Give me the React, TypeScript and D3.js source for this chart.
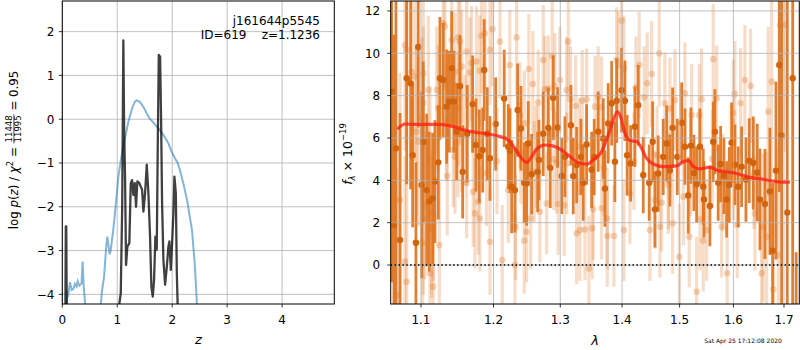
import React, { useEffect, useRef } from "react";
import * as d3 from "d3";

const FONT = "DejaVu Sans, sans-serif";

// ---------- left panel: p(z) ----------
const zTicks = [0, 1, 2, 3, 4];
const logpTicks = [-4, -3, -2, -1, 0, 1, 2];

// blue: log p(z)
const pzCurve: [number, number][] = [
  [0.07, -4.5], [0.09, -3.95], [0.11, -4.0], [0.14, -3.72], [0.17, -3.9], [0.2, -3.88],
  [0.23, -3.76], [0.26, -3.82], [0.28, -3.7], [0.31, -3.8], [0.35, -3.75], [0.37, -3.25],
  [0.39, -3.82], [0.42, -4.3], [0.55, -5.5], [0.69, -4.4], [0.72, -3.94], [0.76, -3.6],
  [0.8, -2.9], [0.82, -2.68], [0.86, -3.08], [0.88, -3.0], [0.93, -2.5], [0.97, -2.0],
  [1.02, -1.31], [1.06, -0.98], [1.11, -0.63], [1.2, -0.07], [1.27, 0.25], [1.32, 0.4],
  [1.355, 0.43], [1.41, 0.4], [1.49, 0.25], [1.55, 0.1], [1.6, 0.0], [1.66, -0.08],
  [1.72, -0.17], [1.78, -0.26], [1.84, -0.36], [1.93, -0.55], [1.99, -0.74], [2.05, -0.89],
  [2.1, -1.0], [2.14, -1.16], [2.2, -1.45], [2.27, -1.84], [2.36, -2.53], [2.41, -3.3],
  [2.44, -3.97], [2.48, -5.0],
];

// dark: chi2 based
const chi2Curve: [number, number][] = [
  [0.0, -6], [0.055, -4.6], [0.064, -2.45], [0.072, -2.45], [0.082, -4.6], [0.3, -7],
  [0.9, -7], [1.0, -4.6], [1.04, -4.2], [1.064, -3.97], [1.09, -2.0], [1.111, 1.8],
  [1.125, -0.2], [1.142, -1.31], [1.16, -3.33], [1.184, -2.91], [1.22, -2.83], [1.246, -1.46],
  [1.27, -1.39], [1.293, -1.73], [1.319, -1.46], [1.342, -2.0], [1.366, -1.42], [1.403, -1.46],
  [1.428, -1.54], [1.452, -1.61], [1.476, -2.11], [1.506, -1.69], [1.537, -1.04], [1.567, -1.69],
  [1.597, -2.68], [1.621, -3.82], [1.646, -4.05], [1.67, -3.67], [1.694, -2.68], [1.719, -2.98],
  [1.737, -0.63], [1.756, 1.47], [1.78, 1.43], [1.798, -0.02], [1.816, -1.92], [1.84, -3.21],
  [1.871, -3.78], [1.902, -3.37], [1.931, -2.91], [1.949, -2.79], [1.975, -3.44], [2.004, -2.68],
  [2.022, -2.15], [2.04, -1.31], [2.066, -1.69], [2.084, -3.52], [2.107, -4.6], [2.3, -7],
  [4.95, -7],
];

const objName = "j161644p5545";
const objInfo = "ID=619    z=1.1236";

// ---------- right panel: spectrum ----------
const lamTicks = [1.1, 1.2, 1.3, 1.4, 1.5, 1.6, 1.7];
const fluxTicks = [0, 2, 4, 6, 8, 10, 12];

const darkWave = [
  1.062, 1.065, 1.0675, 1.0727, 1.0813, 1.0865, 1.0891, 1.0934, 1.0964, 1.1009,
  1.103, 1.1076, 1.111, 1.1155, 1.1186, 1.1231, 1.1253, 1.1298, 1.1344, 1.138,
  1.1413, 1.1444, 1.1481, 1.1527, 1.1564, 1.1628, 1.1703, 1.175, 1.1797, 1.1845,
  1.1867, 1.191, 1.1949, 1.2031, 1.2155, 1.2214, 1.2239, 1.2264, 1.2312, 1.2352,
  1.2401, 1.245, 1.2486, 1.251, 1.2561, 1.2652, 1.2672, 1.2737, 1.2814, 1.2845,
  1.2891, 1.2959, 1.3022, 1.3073, 1.3168, 1.3204, 1.3258, 1.3326, 1.3363, 1.3417,
  1.3498, 1.354, 1.3605, 1.3687, 1.3715, 1.3769, 1.3826, 1.388, 1.3909, 1.3992,
  1.4048, 1.4086, 1.4144, 1.4217, 1.4274, 1.436, 1.4463, 1.4523, 1.4563, 1.462,
  1.4708, 1.4769, 1.4827, 1.4875, 1.4958, 1.5037, 1.5096, 1.5156, 1.5205, 1.526,
  1.5309, 1.537, 1.5431, 1.5444, 1.5555, 1.5617, 1.5649, 1.5711, 1.5756, 1.5819,
  1.587, 1.592, 1.5965, 1.6029, 1.6092, 1.6158, 1.6242, 1.6306, 1.6384, 1.6463,
  1.6517, 1.6616, 1.6716, 1.677, 1.6837, 1.6904, 1.6952, 1.7067, 1.7178, 1.725,
];
const darkFlux = [
  8.19, 1.89, 5.51, 1.18, 8.82, 8.58, 5.19, 1.05, 10.3, 3.78,
  5.81, 3.54, 3.0, 3.15, 3.94, 4.85, 8.82, 8.74, 7.48, 7.72,
  9.3, 7.72, 6.3, 8.45, 4.4, 6.2, 7.6, 5.67, 5.14, 5.43,
  9.21, 6.2, 5.04, 6.66, 7.87, 5.59, 5.4, 3.7, 3.54, 7.32,
  6.45, 3.89, 3.86, 5.74, 4.29, 4.4, 4.96, 6.2, 6.48, 4.59,
  7.9, 6.5, 4.21, 5.11, 6.6, 4.2, 4.72, 5.11, 3.89, 5.69,
  4.5, 5.1, 6.3, 5.98, 3.61, 6.69, 7.64, 4.88, 7.76, 8.26,
  7.76, 5.19, 4.8, 6.53, 7.55, 4.25, 3.89, 5.82, 2.63, 4.32,
  5.11, 5.74, 4.47, 6.48, 5.11, 6.72, 5.59, 3.29, 5.64, 4.35,
  3.81, 5.59, 3.7, 3.1, 2.79, 5.82, 6.3, 3.89, 4.77, 4.21,
  3.1, 3.78, 5.78, 4.74, 3.7, 4.64, 4.04, 4.93, 4.82, 4.37,
  3.1, 2.88, 3.48, 0.68, 4.46, 9.45, 6.12, 2.48, 8.82, -4.0,
];
const darkErr = [
  9, 9, 9, 6, 5, 5, 3.4, 3.8, 3.8, 4.4,
  3.8, 3.6, 3.3, 3.1, 2.9, 2.7, 2.9, 2.7, 2.7, 2.4,
  2.7, 2.4, 2.3, 2.4, 2.2, 2.3, 2.3, 2.2, 2.2, 2.0,
  2.4, 2.2, 2.0, 2.2, 2.3, 2.0, 2.0, 2.2, 2.0, 2.2,
  2.0, 1.9, 2.0, 2.0, 1.9, 1.9, 1.9, 2.0, 1.9, 1.9,
  2.0, 1.9, 1.8, 1.9, 1.9, 1.8, 1.8, 1.8, 1.8, 1.9,
  1.8, 1.8, 1.9, 1.9, 1.8, 1.9, 2.0, 1.9, 2.0, 2.0,
  1.9, 1.9, 1.8, 1.9, 1.9, 1.8, 1.8, 1.9, 1.8, 1.8,
  1.8, 1.8, 1.7, 1.9, 1.8, 1.9, 1.8, 1.8, 1.8, 1.8,
  1.8, 1.8, 1.8, 1.8, 1.9, 1.9, 2.0, 1.8, 1.8, 1.8,
  1.8, 1.8, 1.9, 1.9, 1.9, 1.9, 2.0, 2.0, 2.2, 2.3,
  2.4, 2.6, 3.0, 3.2, 4.2, 6, 9, 11, 11, 4.6,
];

// second (faint) spectrum: [lambda, flux, err]
const lightPts: [number, number, number][] = [
  [1.0685, -1.42, 6], [1.0727, 3.07, 6], [1.0791, 10.39, 5], [1.0791, 0.16, 5], [1.0813, -0.79, 5],
  [1.0813, 10.16, 4.5], [1.0877, 9.13, 4], [1.092, 8.9, 4], [1.0942, 6.3, 4], [1.0964, 5.83, 4],
  [1.1009, 6.93, 3.8], [1.1022, 1.05, 3.8], [1.103, 7.67, 3.6], [1.103, 9.05, 3.6], [1.103, 2.2, 3.6],
  [1.1052, 2.83, 3.5], [1.1097, 8.27, 3.5], [1.1119, 5.04, 3.4], [1.1119, -0.39, 3.4], [1.1142, 1.65, 3.2],
  [1.1163, 2.44, 3.2], [1.1163, -1.02, 3.0], [1.121, 8.27, 3.0], [1.1231, 7.4, 3.0], [1.1245, 0.94, 3.0],
  [1.1298, 11.42, 3.0], [1.1321, 11.26, 3.0], [1.1344, 6.77, 2.8], [1.1352, 4.2, 2.8], [1.1413, 10.63, 2.8],
  [1.1435, 5.43, 2.7], [1.1458, 9.13, 2.8], [1.1458, 5.12, 2.7], [1.15, 5.8, 2.6], [1.1504, 10.75, 2.8],
  [1.1504, 7.4, 2.7], [1.1527, 10.55, 2.8], [1.155, 9.37, 2.7], [1.155, 6.06, 2.6], [1.1596, 6.38, 2.6],
  [1.1619, 10.08, 2.7], [1.1619, 3.86, 2.6], [1.1665, 9.09, 2.6], [1.1688, 9.53, 2.7], [1.1711, 3.46, 2.6],
  [1.1735, 2.44, 2.6], [1.1758, 9.61, 2.6], [1.1781, 2.99, 2.5], [1.1805, 9.18, 2.6], [1.1805, 2.2, 2.5],
  [1.1828, 10.83, 2.7], [1.1875, 10.94, 2.7], [1.1899, 4.33, 2.5], [1.1949, 10.16, 2.6], [1.1949, 1.1, 2.5],
  [1.1985, 11.13, 2.7], [1.205, 4.9, 2.5], [1.2093, 10.55, 2.7], [1.2126, 0.23, 2.6], [1.2214, 3.54, 2.5],
  [1.2237, 9.45, 2.6], [1.2312, 0.0, 2.5], [1.2322, 1.81, 2.5], [1.2337, 10.75, 2.7], [1.2386, 7.08, 2.5],
  [1.24, 5.3, 2.4], [1.245, 6.69, 2.5], [1.245, 1.15, 2.5], [1.2486, 1.57, 2.4], [1.2519, 9.26, 2.6],
  [1.2547, 2.2, 2.4], [1.258, 8.55, 2.5], [1.26, 4.4, 2.4], [1.2628, 5.12, 2.4], [1.2661, 7.67, 2.5],
  [1.2686, 2.52, 2.4], [1.2737, 9.68, 2.6], [1.2763, 8.3, 2.5], [1.2789, 2.91, 2.4], [1.2814, 8.34, 2.5],
  [1.2875, 9.87, 2.6], [1.29, 5.0, 2.4], [1.2917, 8.46, 2.5], [1.2943, 4.83, 2.4], [1.2968, 2.88, 2.4],
  [1.2995, 8.74, 2.5], [1.3062, 2.83, 2.4], [1.31, 8.27, 2.5], [1.31, 4.8, 2.4], [1.3125, 10.55, 2.6],
  [1.316, 7.83, 2.5], [1.3242, 7.51, 2.4], [1.3258, 1.49, 2.4], [1.33, 5.6, 2.3], [1.3311, 1.65, 2.4],
  [1.3347, 7.76, 2.4], [1.339, 1.68, 2.4], [1.3417, 7.83, 2.4], [1.3454, -0.16, 2.5], [1.3508, 1.73, 2.4],
  [1.3524, 2.63, 2.4], [1.3552, 7.48, 2.4], [1.3605, 7.95, 2.4], [1.366, 7.45, 2.4], [1.366, 2.68, 2.4],
  [1.37, 4.6, 2.3], [1.3753, 2.2, 2.4], [1.3753, 1.37, 2.4], [1.3864, 1.37, 2.4], [1.3909, 9.68, 2.5],
  [1.3936, 9.45, 2.5], [1.3992, 11.54, 2.6], [1.4031, 9.29, 2.5], [1.4031, 1.65, 2.4], [1.4132, 3.38, 2.4],
  [1.42, 4.9, 2.3], [1.4233, 8.39, 2.4], [1.429, 9.45, 2.5], [1.4377, 7.92, 2.4], [1.4428, 8.58, 2.4],
  [1.4476, 1.65, 2.4], [1.4505, 9.02, 2.5], [1.4563, 3.07, 2.3], [1.46, 5.2, 2.3], [1.4638, 9.99, 2.5],
  [1.465, 1.81, 2.4], [1.468, 2.94, 2.3], [1.4738, 7.64, 2.4], [1.4798, 3.78, 2.3], [1.48, 4.0, 2.3],
  [1.4827, 7.4, 2.4], [1.4875, 1.97, 2.4], [1.4916, 7.79, 2.4], [1.4994, 0.39, 2.5], [1.5067, 3.23, 2.3],
  [1.5096, 8.11, 2.4], [1.5174, 1.34, 2.4], [1.52, 4.6, 2.3], [1.5218, 7.08, 2.4], [1.5309, -1.26, 2.6],
  [1.5357, 7.08, 2.4], [1.537, 2.16, 2.4], [1.5401, 7.83, 2.4], [1.5431, 1.15, 2.4], [1.5494, 1.65, 2.4],
  [1.56, 5.0, 2.3], [1.5617, 9.72, 2.6], [1.5681, 7.87, 2.5], [1.5775, 1.81, 2.4], [1.58, 3.9, 2.3],
  [1.5881, -0.39, 2.6], [1.5996, 7.19, 2.5], [1.6, 4.5, 2.4], [1.6029, 8.08, 2.5], [1.6073, 1.89, 2.5],
  [1.6139, 7.64, 2.6], [1.6222, 8.74, 2.6], [1.6333, 8.46, 2.7], [1.64, 4.3, 2.6], [1.6418, 2.44, 2.7],
  [1.6549, -0.39, 3.5], [1.6582, 1.78, 3.5], [1.665, 1.34, 4], [1.6682, 7.24, 4], [1.675, 8.66, 4.5],
  [1.6783, -1.15, 5], [1.6886, 0.47, 5], [1.692, 11.34, 5], [1.7023, 11.34, 6],
];

// best-fit template
const modelWave = [
  1.0705, 1.0791, 1.0942, 1.1253, 1.1391, 1.1665, 1.1899, 1.2093, 1.2214, 1.2312,
  1.2411, 1.2486, 1.2561, 1.2637, 1.2763, 1.2866, 1.2995, 1.3125, 1.3284, 1.3417,
  1.3524, 1.366, 1.3742, 1.3826, 1.3919, 1.3964, 1.4048, 1.4132, 1.4246, 1.4332,
  1.4418, 1.4533, 1.4708, 1.4946, 1.5067, 1.5159, 1.5251, 1.537, 1.5555, 1.5711,
  1.5933, 1.6092, 1.6318, 1.6578, 1.6855, 1.7095,
];
const modelFlux = [
  6.46, 6.66, 6.64, 6.64, 6.57, 6.31, 6.2, 6.07, 5.91, 5.51,
  5.04, 4.84, 5.12, 5.48, 5.67, 5.64, 5.48, 5.19, 4.84, 4.76,
  4.96, 5.35, 5.91, 6.61, 7.24, 7.09, 6.23, 5.88, 5.83, 5.51,
  5.04, 4.77, 4.65, 4.68, 4.88, 4.93, 4.65, 4.54, 4.62, 4.46,
  4.38, 4.3, 4.14, 4.05, 3.94, 3.91,
];

const stamp = "Sat Apr 25 17:12:08 2020";

const minus = (v: number) => (v < 0 ? "\u2212" + Math.abs(v) : String(v));

type Box = { x0: number; x1: number; y0: number; y1: number };

function drawGrid(g: any, box: Box, x: any, y: any, xt: number[], yt: number[]) {
  const grid = g.append("g").attr("stroke", "#b0b0b0").attr("stroke-width", 0.8);
  grid.selectAll("line.gx").data(xt).join("line")
    .attr("x1", (d: number) => x(d)).attr("x2", (d: number) => x(d))
    .attr("y1", box.y0).attr("y2", box.y1);
  grid.selectAll("line.gy").data(yt).join("line")
    .attr("class", "gy")
    .attr("x1", box.x0).attr("x2", box.x1)
    .attr("y1", (d: number) => y(d)).attr("y2", (d: number) => y(d));
}

function drawAxes(g: any, box: Box, x: any, y: any, xt: number[], yt: number[], xfmt: (v: number) => string, ylabEnd: number) {
  const ax = g.append("g");
  ax.selectAll("line.tx").data(xt).join("line")
    .attr("x1", (d: number) => x(d)).attr("x2", (d: number) => x(d))
    .attr("y1", box.y1).attr("y2", box.y1 + 3.5)
    .attr("stroke", "#000").attr("stroke-width", 0.8);
  ax.selectAll("text.tx").data(xt).join("text")
    .attr("x", (d: number) => x(d)).attr("y", box.y1 + 20)
    .attr("text-anchor", "middle").attr("font-size", 12).attr("fill", "#000")
    .text(xfmt);
  ax.selectAll("line.ty").data(yt).join("line")
    .attr("class", "ty")
    .attr("x1", box.x0 - 3.5).attr("x2", box.x0)
    .attr("y1", (d: number) => y(d)).attr("y2", (d: number) => y(d))
    .attr("stroke", "#000").attr("stroke-width", 0.8);
  ax.selectAll("text.ty").data(yt).join("text")
    .attr("class", "ty")
    .attr("x", ylabEnd).attr("y", (d: number) => y(d)).attr("dy", "0.36em")
    .attr("text-anchor", "end").attr("font-size", 12).attr("fill", "#000")
    .text((d: number) => minus(d));
  ax.append("rect")
    .attr("x", box.x0).attr("y", box.y0)
    .attr("width", box.x1 - box.x0).attr("height", box.y1 - box.y0)
    .attr("fill", "none").attr("stroke", "#000").attr("stroke-width", 1);
}

export default function App() {
  const svgRef = useRef<SVGSVGElement>(null);

  useEffect(() => {
    const svg = d3.select(svgRef.current);
    svg.selectAll("*").remove();
    svg.attr("font-family", FONT);

    const defs = svg.append("defs");

    // ----- left panel
    const L: Box = { x0: 62.3, x1: 334.3, y0: 1, y1: 304 };
    const zx = d3.scaleLinear().domain([0, 4.95]).range([L.x0, L.x1]);
    const zy = d3.scaleLinear().domain([-4.22, 2.7]).range([L.y1, L.y0]);
    defs.append("clipPath").attr("id", "clipL").append("rect")
      .attr("x", L.x0).attr("y", L.y0).attr("width", L.x1 - L.x0).attr("height", L.y1 - L.y0);

    const left = svg.append("g");
    drawGrid(left, L, zx, zy, zTicks, logpTicks);
    const line = d3.line<[number, number]>().x((d) => zx(d[0])).y((d) => zy(d[1]));
    const lc = left.append("g").attr("clip-path", "url(#clipL)");
    lc.append("path").attr("d", line(pzCurve)).attr("fill", "none")
      .attr("stroke", "#1f77b4").attr("stroke-opacity", 0.55).attr("stroke-width", 2);
    lc.append("path").attr("d", line(chi2Curve)).attr("fill", "none")
      .attr("stroke", "#000").attr("stroke-opacity", 0.75).attr("stroke-width", 2.3)
      .attr("stroke-linejoin", "round");
    drawAxes(left, L, zx, zy, zTicks, logpTicks, (d) => String(d), L.x0 - 7.8);

    left.append("text").attr("x", 320).attr("y", 25).attr("text-anchor", "end")
      .attr("font-size", 12).text(objName);
    left.append("text").attr("x", 320).attr("y", 39).attr("text-anchor", "end")
      .attr("font-size", 12).attr("xml:space", "preserve").style("white-space", "pre").text(objInfo);

    left.append("text").attr("x", (L.x0 + L.x1) / 2).attr("y", 344)
      .attr("text-anchor", "middle").attr("font-size", 13).attr("font-style", "italic").text("z");

    // left y label with fraction
    const ylab = svg.append("g").attr("transform", "translate(18,150) rotate(-90)").attr("font-size", 11.8);
    const p1 = ylab.append("text").attr("xml:space", "preserve").style("white-space", "pre");
    p1.append("tspan").text("log ");
    p1.append("tspan").attr("font-style", "italic").text("p");
    p1.append("tspan").text("(");
    p1.append("tspan").attr("font-style", "italic").text("z");
    p1.append("tspan").text(") / ");
    p1.append("tspan").attr("font-style", "italic").text("\u03c7");
    p1.append("tspan").attr("font-size", 8.5).attr("dy", -5).text("2");
    p1.append("tspan").attr("dy", 5).text(" = ");
    const num = ylab.append("text").attr("font-size", 8.5).attr("text-anchor", "middle").text("11448");
    const den = ylab.append("text").attr("font-size", 8.5).attr("text-anchor", "middle").text("11995");
    const p3 = ylab.append("text").attr("xml:space", "preserve").style("white-space", "pre").text(" = 0.95");
    const w1 = (p1.node() as SVGTextElement).getComputedTextLength();
    const wn = Math.max(
      (num.node() as SVGTextElement).getComputedTextLength(),
      (den.node() as SVGTextElement).getComputedTextLength()
    ) + 2;
    const w3 = (p3.node() as SVGTextElement).getComputedTextLength();
    const sx = -(w1 + wn + w3) / 2;
    p1.attr("x", sx);
    num.attr("x", sx + w1 + wn / 2).attr("y", -5.6);
    den.attr("x", sx + w1 + wn / 2).attr("y", 3.2);
    ylab.append("line").attr("x1", sx + w1).attr("x2", sx + w1 + wn)
      .attr("y1", -4.1).attr("y2", -4.1).attr("stroke", "#000").attr("stroke-width", 0.7);
    p3.attr("x", sx + w1 + wn);

    // ----- right panel
    const R: Box = { x0: 390.7, x1: 799.3, y0: 1, y1: 304 };
    const lx = d3.scaleLog().domain([1.0608, 1.7315]).range([R.x0, R.x1]);
    const fy = d3.scaleLinear().domain([-1.84, 12.47]).range([R.y1, R.y0]);
    defs.append("clipPath").attr("id", "clipR").append("rect")
      .attr("x", R.x0).attr("y", R.y0).attr("width", R.x1 - R.x0).attr("height", R.y1 - R.y0);

    const right = svg.append("g");
    const rc = right.append("g").attr("clip-path", "url(#clipR)");
    const orange = "#de7420";

    rc.append("g").selectAll("line").data(lightPts).join("line")
      .attr("x1", (d) => lx(d[0])).attr("x2", (d) => lx(d[0]))
      .attr("y1", (d) => fy(d[1] - d[2])).attr("y2", (d) => fy(d[1] + d[2]))
      .attr("stroke", orange).attr("stroke-opacity", 0.25).attr("stroke-width", 3.2);
    rc.append("g").selectAll("circle").data(lightPts).join("circle")
      .attr("cx", (d) => lx(d[0])).attr("cy", (d) => fy(d[1])).attr("r", 3.3)
      .attr("fill", orange).attr("fill-opacity", 0.3);

    const dark = darkWave.map((w, i) => ({ w, f: darkFlux[i], e: darkErr[i] }));
    rc.append("g").selectAll("line").data(dark).join("line")
      .attr("x1", (d) => lx(d.w)).attr("x2", (d) => lx(d.w))
      .attr("y1", (d) => fy(d.f - d.e)).attr("y2", (d) => fy(d.f + d.e))
      .attr("stroke", orange).attr("stroke-opacity", 0.92).attr("stroke-width", 2.8);
    rc.append("g").selectAll("circle").data(dark).join("circle")
      .attr("cx", (d) => lx(d.w)).attr("cy", (d) => fy(d.f)).attr("r", 3.2)
      .attr("fill", "#d2640e");

    drawGrid(rc, R, lx, fy, lamTicks, fluxTicks);

    const model = modelWave.map((w, i) => [w, modelFlux[i]] as [number, number]);
    rc.append("path")
      .attr("d", d3.line<[number, number]>().x((d) => lx(d[0])).y((d) => fy(d[1])).curve(d3.curveMonotoneX)(model))
      .attr("fill", "none").attr("stroke", "#ff1a10").attr("stroke-opacity", 0.75)
      .attr("stroke-width", 3.2).attr("stroke-linecap", "round");

    rc.append("line").attr("x1", R.x0).attr("x2", R.x1).attr("y1", fy(0)).attr("y2", fy(0))
      .attr("stroke", "#000").attr("stroke-width", 1.5).attr("stroke-dasharray", "1.5,2.4");

    drawAxes(right, R, lx, fy, lamTicks, fluxTicks, (d) => d.toFixed(1), R.x0 - 10.5);

    right.append("text").attr("x", (R.x0 + R.x1) / 2).attr("y", 345)
      .attr("text-anchor", "middle").attr("font-size", 13).attr("font-style", "italic").text("\u03bb");

    const rl = svg.append("g").attr("transform", "translate(352,154) rotate(-90)").attr("font-size", 12.5);
    const rt = rl.append("text").attr("text-anchor", "middle");
    rt.append("tspan").attr("font-style", "italic").text("f");
    rt.append("tspan").attr("font-size", 8.5).attr("font-style", "italic").attr("dy", 3).text("\u03bb");
    rt.append("tspan").attr("dy", -3).text(" \u00d7 10");
    rt.append("tspan").attr("font-size", 8.5).attr("dy", -6).text("\u221219");

    svg.append("text").attr("x", 743).attr("y", 343).attr("text-anchor", "middle")
      .attr("font-size", 6).text(stamp);
  }, []);

  return (
    <div style={{ position: "absolute", left: 0, top: 0 }}>
      <svg ref={svgRef} width={800} height={350} style={{ display: "block", background: "#fff" }} />
    </div>
  );
}
